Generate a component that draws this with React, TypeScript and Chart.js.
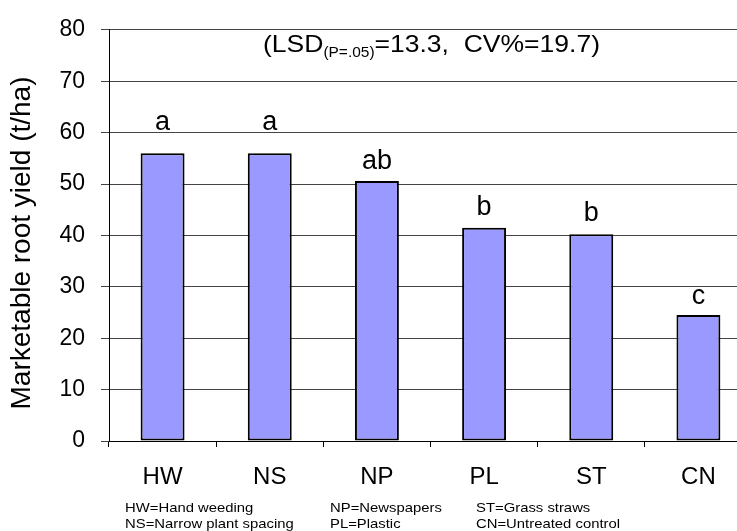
import React, { useEffect, useRef } from "react";
import { Chart, registerables } from "chart.js";

Chart.register(...registerables);

const categories = ["HW", "NS", "NP", "PL", "ST", "CN"];
const yieldValues = [56.0, 56.0, 50.6, 41.5, 40.2, 24.5];
const groupLetters = ["a", "a", "ab", "b", "b", "c"];
const letterBaselines = [60.6, 60.6, 52.9, 44.0, 42.8, 26.7];
const yTicks = [0, 10, 20, 30, 40, 50, 60, 70, 80];
const yAxisTitle = "Marketable root yield (t/ha)";
const statsMainA = "(LSD";
const statsSub = "(P=.05)";
const statsMainB = "=13.3,  CV%=19.7)";
const legendCol1 = ["HW=Hand weeding", "NS=Narrow plant spacing"];
const legendCol2 = ["NP=Newspapers", "PL=Plastic"];
const legendCol3 = ["ST=Grass straws", "CN=Untreated control"];

const FONT = "'Liberation Sans', Arial, sans-serif";

const textPlugin = {
  id: "textPlugin",
  afterDraw(chart: any) {
    const ctx = chart.ctx as CanvasRenderingContext2D;
    const yScale = chart.scales.y;
    const meta = chart.getDatasetMeta(0);
    ctx.save();
    ctx.fillStyle = "#000";

    // y-axis title
    ctx.save();
    ctx.translate(22, 243);
    ctx.rotate(-Math.PI / 2);
    ctx.font = `28px ${FONT}`;
    ctx.textAlign = "center";
    ctx.textBaseline = "middle";
    ctx.fillText(yAxisTitle, 0, 0);
    ctx.restore();

    // significance letters
    ctx.font = `27px ${FONT}`;
    ctx.textAlign = "center";
    ctx.textBaseline = "alphabetic";
    groupLetters.forEach((l, i) => {
      const bar = meta.data[i];
      ctx.fillText(l, bar.x, yScale.getPixelForValue(letterBaselines[i]));
    });

    // statistics annotation
    ctx.save();
    ctx.textAlign = "left";
    const mainFont = `24px ${FONT}`;
    const subFont = `14px ${FONT}`;
    ctx.font = mainFont;
    const wA = ctx.measureText(statsMainA).width;
    const wB = ctx.measureText(statsMainB).width;
    ctx.font = subFont;
    const wS = ctx.measureText(statsSub).width;
    const k = (600 - 263) / (wA + wS + wB);
    ctx.translate(263, 0);
    ctx.scale(k, 1);
    ctx.font = mainFont;
    ctx.fillText(statsMainA, 0, 52);
    ctx.font = subFont;
    ctx.fillText(statsSub, wA, 57);
    ctx.font = mainFont;
    ctx.fillText(statsMainB, wA + wS, 52);
    ctx.restore();

    // legend text
    const cols: [number, string[]][] = [
      [125, legendCol1],
      [330, legendCol2],
      [476, legendCol3],
    ];
    ctx.font = `13.5px ${FONT}`;
    ctx.textAlign = "left";
    cols.forEach(([x, lines]) => {
      lines.forEach((t, j) => {
        ctx.save();
        ctx.translate(x, 512 + j * 16);
        ctx.scale(1.1, 1);
        ctx.fillText(t, 0, 0);
        ctx.restore();
      });
    });

    ctx.restore();
  },
};

export default function App() {
  const ref = useRef<HTMLCanvasElement>(null);

  useEffect(() => {
    if (!ref.current) return;
    Chart.defaults.font.family = FONT;
    const chart = new Chart(ref.current, {
      type: "bar",
      data: {
        labels: categories,
        datasets: [
          {
            data: yieldValues,
            backgroundColor: "#9999FF",
            borderColor: "#000000",
            borderWidth: 2,
            borderSkipped: false,
            categoryPercentage: 1,
            barPercentage: 0.41,
          },
        ],
      },
      options: {
        animation: false,
        responsive: false,
        devicePixelRatio: 1,
        layout: { padding: { top: 24, right: 8, left: 0, bottom: 0 } },
        plugins: {
          legend: { display: false },
          tooltip: { enabled: false },
          title: { display: false },
        },
        scales: {
          x: {
            afterFit: (s: any) => {
              s.height = 90;
            },
            grid: {
              offset: true,
              drawOnChartArea: false,
              drawTicks: true,
              tickLength: 6,
              color: "#000",
            },
            border: { display: true, color: "#000", width: 1 },
            ticks: {
              color: "#000",
              font: { size: 24, family: FONT },
              padding: 16,
              maxRotation: 0,
            },
          },
          y: {
            min: 0,
            max: 80,
            afterFit: (s: any) => {
              s.width = 109;
            },
            afterBuildTicks: (s: any) => {
              s.ticks = yTicks.map((v) => ({ value: v }));
            },
            grid: {
              color: "#444",
              lineWidth: 1,
              drawTicks: true,
              tickLength: 8,
            },
            border: { display: true, color: "#000", width: 1 },
            ticks: {
              color: "#000",
              font: { size: 23, family: FONT },
              padding: 16,
            },
          },
        },
      },
      plugins: [textPlugin],
    });
    return () => chart.destroy();
  }, []);

  return (
    <div
      style={{
        position: "fixed",
        left: 0,
        top: 0,
        width: 737,
        height: 531,
        overflow: "hidden",
        background: "#fff",
      }}
    >
      <canvas
        ref={ref}
        width={760}
        height={531}
        style={{ width: 760, height: 531, display: "block" }}
      />
    </div>
  );
}
